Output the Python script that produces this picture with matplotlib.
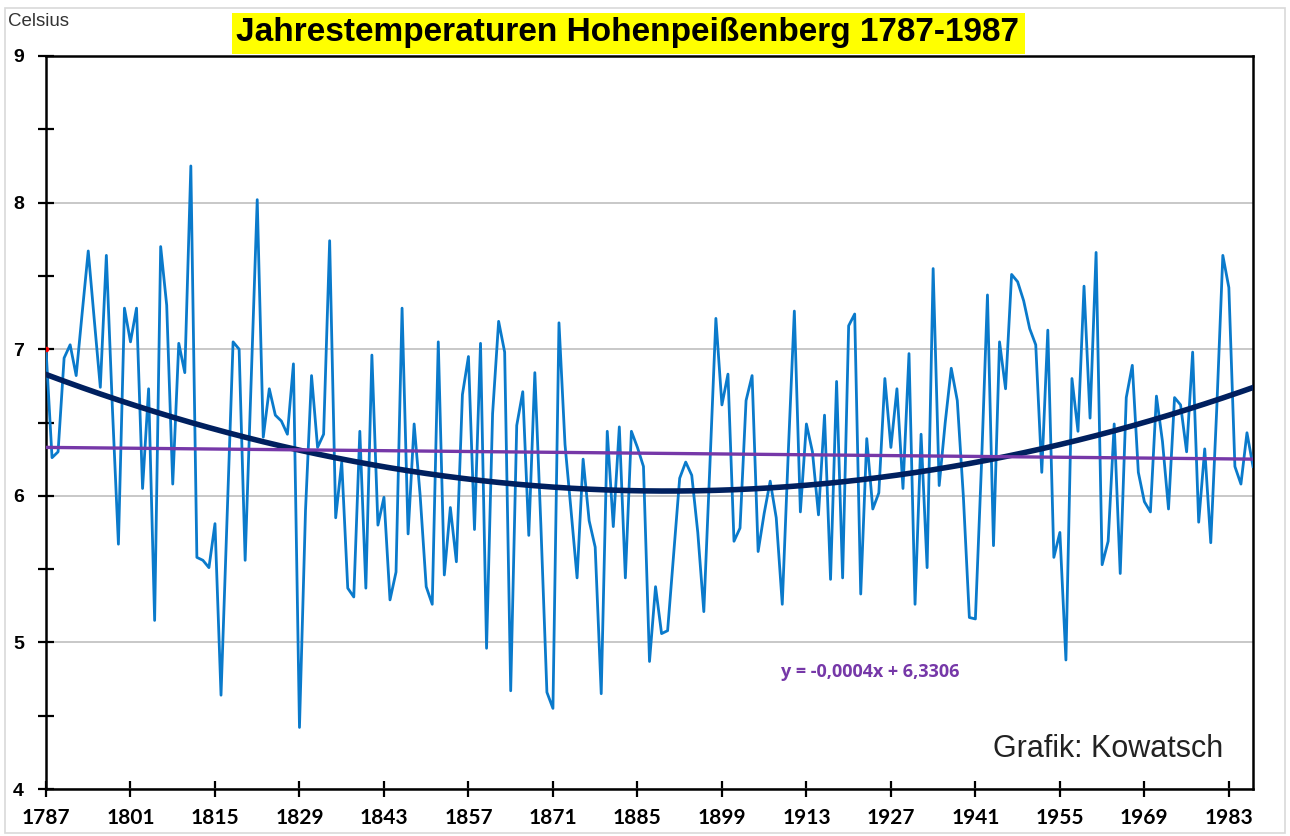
import numpy as np
import matplotlib
matplotlib.use("Agg")
import matplotlib.pyplot as plt
from matplotlib.ticker import MultipleLocator, FixedLocator
from matplotlib.patches import Rectangle

years = list(range(1787, 1988))
temps = [
    # 1787-1796
    7.00, 6.26, 6.30, 6.94, 7.03, 6.82, 7.25, 7.67, 7.20, 6.74,
    # 1797-1806
    7.64, 6.60, 5.67, 7.28, 7.05, 7.28, 6.05, 6.73, 5.15, 7.70,
    # 1807-1816
    7.30, 6.08, 7.04, 6.84, 8.25, 5.58, 5.56, 5.51, 5.81, 4.64,
    # 1817-1826
    5.85, 7.05, 7.00, 5.56, 6.80, 8.02, 6.40, 6.73, 6.55, 6.51,
    # 1827-1836
    6.42, 6.90, 4.42, 5.90, 6.82, 6.33, 6.42, 7.74, 5.85, 6.23,
    # 1837-1846
    5.37, 5.31, 6.44, 5.37, 6.96, 5.80, 5.99, 5.29, 5.48, 7.28,
    # 1847-1856
    5.74, 6.49, 6.00, 5.38, 5.26, 7.05, 5.46, 5.92, 5.55, 6.69,
    # 1857-1866
    6.95, 5.77, 7.04, 4.96, 6.56, 7.19, 6.98, 4.67, 6.48, 6.71,
    # 1867-1876
    5.73, 6.84, 5.80, 4.66, 4.55, 7.18, 6.35, 5.90, 5.44, 6.25,
    # 1877-1886
    5.83, 5.65, 4.65, 6.44, 5.79, 6.47, 5.44, 6.44, 6.33, 6.20,
    # 1887-1896
    4.87, 5.38, 5.06, 5.08, 5.60, 6.12, 6.23, 6.14, 5.75, 5.21,
    # 1897-1906
    6.20, 7.21, 6.62, 6.83, 5.69, 5.78, 6.65, 6.82, 5.62, 5.88,
    # 1907-1916
    6.10, 5.85, 5.26, 6.30, 7.26, 5.89, 6.49, 6.30, 5.87, 6.55,
    # 1917-1926
    5.43, 6.78, 5.44, 7.16, 7.24, 5.33, 6.39, 5.91, 6.02, 6.80,
    # 1927-1936
    6.33, 6.73, 6.05, 6.97, 5.26, 6.42, 5.51, 7.55, 6.07, 6.50,
    # 1937-1946
    6.87, 6.65, 6.00, 5.17, 5.16, 6.20, 7.37, 5.66, 7.05, 6.73,
    # 1947-1956
    7.51, 7.46, 7.33, 7.14, 7.03, 6.16, 7.13, 5.58, 5.75, 4.88,
    # 1957-1966
    6.80, 6.44, 7.43, 6.53, 7.66, 5.53, 5.69, 6.49, 5.47, 6.67,
    # 1967-1976
    6.89, 6.16, 5.96, 5.89, 6.68, 6.37, 5.91, 6.67, 6.62, 6.30,
    # 1977-1986
    6.98, 5.82, 6.32, 5.68, 6.60, 7.64, 7.42, 6.20, 6.08, 6.43,
    # 1987
    6.20,
]
xtick_years = list(range(1787, 1984, 14))
ytick_values = [4, 5, 6, 7, 8, 9]
lin_slope = -0.0004
lin_intercept = 6.3306

title = "Jahrestemperaturen Hohenpeißenberg 1787-1987"
eq_text = "y = -0,0004x + 6,3306"

years_a = np.array(years)
temps_a = np.array(temps)
idx = np.arange(1, len(years) + 1)

# trend lines (Excel style: x = 1..n)
quad = np.polyfit(idx, temps_a, 2)
quad_y = np.polyval(quad, idx)
lin_y = lin_slope * idx + lin_intercept

fig = plt.figure(figsize=(12.9, 8.36), dpi=100)
fig.patches.append(Rectangle((0.004, 0.004), 0.992, 0.986, transform=fig.transFigure,
                             fill=False, edgecolor="#d9d9d9", linewidth=1.2))
ax = fig.add_axes([46 / 1290, 47 / 836, (1253 - 46) / 1290, (789 - 56) / 836])

ax.plot(years_a, temps_a, color="#0a7acb", linewidth=2.0, zorder=3, solid_joinstyle="round")
ax.plot(years_a, quad_y, color="#00205f", linewidth=4.0, zorder=4)
ax.plot(years_a, lin_y, color="#7638a8", linewidth=2.4, zorder=5)
ax.plot([years_a[0]], [temps_a[0]], marker="o", markersize=3, color="red", zorder=6)

ax.set_xlim(1787, 1987)
ax.set_ylim(4, 9)

ax.yaxis.set_major_locator(FixedLocator(ytick_values))
ax.yaxis.set_minor_locator(MultipleLocator(0.5))
ax.xaxis.set_major_locator(FixedLocator(xtick_years))

ax.grid(axis="y", which="major", color="#bfbfbf", linewidth=1.2, zorder=0)
for s in ax.spines.values():
    s.set_color("black")
    s.set_linewidth(1.8)

ax.tick_params(axis="both", which="both", direction="inout", color="black", width=1.6)
ax.tick_params(axis="y", which="major", length=12, pad=10)
ax.tick_params(axis="y", which="minor", length=12)
ax.tick_params(axis="x", which="major", length=12, pad=8)

for lab in ax.get_yticklabels():
    lab.set_fontfamily("Liberation Sans")
    lab.set_fontweight("bold")
    lab.set_fontsize(14)
ax.set_xticklabels([str(y) for y in xtick_years], fontfamily="Lato",
                   fontweight="bold", fontsize=15)

fig.text(8 / 1290, 1 - 22 / 836, "Celsius", fontfamily="Liberation Sans",
         fontsize=13.5, color="#333333", va="center", ha="left")
fig.text(628 / 1290, 1 - 33 / 836, title, fontfamily="Liberation Sans",
         fontweight="bold", fontsize=24, color="black", ha="center", va="center",
         bbox=dict(boxstyle="square,pad=0.15", facecolor="#ffff00", edgecolor="none"))

ax.text(1923.6, 4.80, eq_text, color="#7638a8", fontfamily="Open Sans",
        fontweight="bold", fontsize=13, ha="center", va="center")
ax.text(1987 - 5, 4.27, "Grafik: Kowatsch", color="#222222", fontfamily="Liberation Sans",
        fontsize=22, ha="right", va="center")

fig.savefig("out.png", dpi=100)
